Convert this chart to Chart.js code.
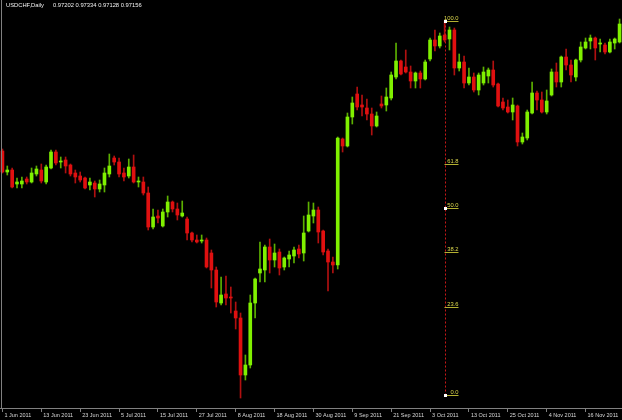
<!DOCTYPE html>
<html>
<head>
<meta charset="utf-8">
<script src="https://cdn.jsdelivr.net/npm/chart.js@4.4.1/dist/chart.umd.min.js"></script>
<style>
  html, body { margin: 0; padding: 0; background: #000; }
  canvas { display: block; }
</style>
</head>
<body>
<canvas id="chart" width="622" height="420"></canvas>
<script>
// USDCHF daily candles, 1 Jun – 25 Nov 2011
const symbolTitle = 'USDCHF,Daily';
const lastQuote = '0.97202 0.97334 0.97128 0.97156';

const tickLabels = ['1 Jun 2011', '13 Jun 2011', '23 Jun 2011', '5 Jul 2011', '15 Jul 2011', '27 Jul 2011',
  '8 Aug 2011', '18 Aug 2011', '30 Aug 2011', '9 Sep 2011', '21 Sep 2011', '3 Oct 2011',
  '13 Oct 2011', '25 Oct 2011', '4 Nov 2011', '16 Nov 2011'];
const TICK_EVERY = 8; // one label every 8 trading days

const opens = [
  0.8534, 0.8408, 0.842, 0.8336, 0.8336, 0.8366, 0.8348, 0.8396, 0.842, 0.8348,
  0.8432, 0.8528, 0.8468, 0.848, 0.845, 0.8402, 0.8384, 0.8372, 0.833, 0.8342,
  0.8306, 0.833, 0.8396, 0.8492, 0.8468, 0.8402, 0.8384, 0.8438, 0.8348, 0.8348,
  0.8282, 0.8078, 0.8144, 0.8084, 0.8168, 0.8228, 0.8186, 0.8144, 0.8126, 0.8042,
  0.8, 0.7994, 0.8, 0.7922, 0.782, 0.7622, 0.7676, 0.7658, 0.7574, 0.7532,
  0.719, 0.725, 0.7622, 0.7802, 0.782, 0.7958, 0.788, 0.7928, 0.7838, 0.7886,
  0.7904, 0.7946, 0.7922, 0.8054, 0.8144, 0.818, 0.8054, 0.7934, 0.7868, 0.785,
  0.8606, 0.8564, 0.8738, 0.8876, 0.881, 0.8792, 0.8756, 0.8684, 0.8816, 0.881,
  0.8852, 0.8978, 0.9074, 0.9038, 0.9008, 0.8954, 0.9002, 0.8966, 0.9086, 0.92,
  0.9164, 0.923, 0.9206, 0.926, 0.9032, 0.9068, 0.8942, 0.8978, 0.89, 0.8942,
  0.8984, 0.902, 0.8936, 0.8828, 0.8798, 0.8768, 0.8804, 0.8588, 0.8612, 0.8762,
  0.8882, 0.884, 0.8768, 0.887, 0.9008, 0.8948, 0.9098, 0.905, 0.8978, 0.908,
  0.9152, 0.9194, 0.9212, 0.9176, 0.917, 0.9128, 0.9182, 0.9188
];
const highs = [
  0.8546, 0.8444, 0.8432, 0.8372, 0.8378, 0.8378, 0.8432, 0.8444, 0.8456, 0.845,
  0.854, 0.854, 0.8498, 0.8498, 0.8456, 0.842, 0.8408, 0.8378, 0.8372, 0.8354,
  0.836, 0.8432, 0.8516, 0.8504, 0.8492, 0.8432, 0.8486, 0.851, 0.8378, 0.8378,
  0.8318, 0.8186, 0.818, 0.8186, 0.8264, 0.8234, 0.8222, 0.8234, 0.8138, 0.8048,
  0.803, 0.803, 0.8012, 0.794, 0.7838, 0.7778, 0.7784, 0.7718, 0.7628, 0.7562,
  0.731, 0.767, 0.7772, 0.7988, 0.797, 0.8006, 0.7976, 0.7946, 0.7898, 0.7934,
  0.7958, 0.797, 0.8144, 0.8228, 0.8222, 0.8198, 0.806, 0.7946, 0.7898, 0.8618,
  0.8612, 0.8762, 0.8858, 0.8918, 0.887, 0.8846, 0.8792, 0.8768, 0.8864, 0.8912,
  0.9008, 0.9182, 0.908, 0.914, 0.9044, 0.9008, 0.9014, 0.908, 0.9212, 0.926,
  0.9242, 0.9314, 0.9278, 0.9272, 0.9116, 0.9104, 0.9032, 0.9002, 0.9002, 0.9038,
  0.9032, 0.9074, 0.8942, 0.8852, 0.884, 0.8852, 0.881, 0.8642, 0.878, 0.8948,
  0.8894, 0.8888, 0.89, 0.9026, 0.9062, 0.9104, 0.9146, 0.908, 0.9086, 0.9188,
  0.9212, 0.923, 0.9218, 0.9206, 0.9182, 0.9206, 0.9212, 0.9326
];
const lows = [
  0.8402, 0.839, 0.8312, 0.8312, 0.8312, 0.8336, 0.8342, 0.8384, 0.8342, 0.8336,
  0.8426, 0.845, 0.8432, 0.8402, 0.8384, 0.8342, 0.8348, 0.8306, 0.83, 0.8258,
  0.8288, 0.8288, 0.8378, 0.845, 0.8378, 0.8354, 0.8372, 0.8342, 0.8318, 0.827,
  0.806, 0.8066, 0.8102, 0.8078, 0.8138, 0.8168, 0.812, 0.8138, 0.8, 0.7988,
  0.7982, 0.7982, 0.7832, 0.7712, 0.7598, 0.761, 0.761, 0.7562, 0.7466, 0.7052,
  0.716, 0.7232, 0.7532, 0.7748, 0.7748, 0.7802, 0.7838, 0.779, 0.782, 0.7838,
  0.7862, 0.7892, 0.7874, 0.8048, 0.8102, 0.7982, 0.791, 0.7694, 0.7802, 0.7826,
  0.8528, 0.8558, 0.8696, 0.878, 0.8744, 0.872, 0.863, 0.8678, 0.8792, 0.8774,
  0.884, 0.8966, 0.899, 0.9002, 0.8912, 0.8912, 0.8912, 0.896, 0.9074, 0.9134,
  0.9152, 0.9188, 0.914, 0.899, 0.9014, 0.8912, 0.893, 0.8888, 0.887, 0.893,
  0.8942, 0.8918, 0.8798, 0.878, 0.8762, 0.872, 0.8564, 0.8576, 0.86, 0.8756,
  0.878, 0.8762, 0.8756, 0.8864, 0.8918, 0.8918, 0.902, 0.8948, 0.8954, 0.9068,
  0.9146, 0.9146, 0.908, 0.9128, 0.9116, 0.9122, 0.9146, 0.9182
];
const closes = [
  0.8408, 0.842, 0.8318, 0.8348, 0.8354, 0.8348, 0.8402, 0.8426, 0.8354, 0.8438,
  0.8528, 0.8462, 0.8474, 0.8444, 0.8396, 0.8378, 0.836, 0.8312, 0.8348, 0.8306,
  0.8336, 0.8402, 0.8444, 0.8468, 0.8396, 0.8378, 0.8438, 0.8348, 0.8354, 0.8282,
  0.8078, 0.8138, 0.8132, 0.8168, 0.8228, 0.8186, 0.815, 0.8162, 0.8042, 0.8,
  0.7988, 0.8, 0.7838, 0.782, 0.7628, 0.767, 0.7652, 0.7652, 0.7532, 0.719,
  0.725, 0.7622, 0.7766, 0.7826, 0.7958, 0.788, 0.7922, 0.7832, 0.7892, 0.791,
  0.794, 0.7916, 0.8042, 0.815, 0.818, 0.8048, 0.7928, 0.7868, 0.785, 0.8612,
  0.8564, 0.8738, 0.8822, 0.8798, 0.8798, 0.8756, 0.8684, 0.8744, 0.8804, 0.8858,
  0.899, 0.9074, 0.8996, 0.9008, 0.8954, 0.9002, 0.8966, 0.9068, 0.92, 0.9164,
  0.9224, 0.92, 0.926, 0.9032, 0.9068, 0.8942, 0.8978, 0.89, 0.899, 0.9008,
  0.902, 0.893, 0.8804, 0.8792, 0.8768, 0.881, 0.8588, 0.8618, 0.8768, 0.8882,
  0.884, 0.8768, 0.8834, 0.9008, 0.8948, 0.9098, 0.905, 0.899, 0.908, 0.9158,
  0.9188, 0.9212, 0.9152, 0.9182, 0.9128, 0.9188, 0.9206, 0.9296
];

// Fibonacci retracement drawn on the 6 Oct bar
const fibLevels = [0, 23.6, 38.2, 50, 61.8, 100];
const fibBar = 91;
const fibLow = 0.707;
const fibHigh = 0.9314;

const UP = '#80f000', DOWN = '#e01010';
const UP_WICK = '#5cb000', DOWN_WICK = '#b01010';

// trading days (weekdays) from 1 Jun 2011
const days = [];
for (let d = new Date(2011, 5, 1); days.length < opens.length; d.setDate(d.getDate() + 1)) {
  if (d.getDay() !== 0 && d.getDay() !== 6) days.push(d.toDateString());
}

const isUp = opens.map((o, i) => closes[i] >= o);
const wicks = lows.map((l, i) => [l, highs[i]]);
const bodies = opens.map((o, i) => [Math.min(o, closes[i]), Math.max(o, closes[i])]);

const FONT = { family: '"Liberation Sans", Arial, sans-serif', size: 5.5 };

// header text + left frame line
const framePlugin = {
  id: 'frame',
  afterDraw(chart) {
    const { ctx, chartArea } = chart;
    ctx.save();
    ctx.strokeStyle = '#808080';
    ctx.lineWidth = 1;
    ctx.beginPath();
    ctx.moveTo(1.5, 0);
    ctx.lineTo(1.5, chartArea.bottom);
    ctx.stroke();
    ctx.fillStyle = '#f0f0f0';
    ctx.font = '5.8px "Liberation Sans", Arial, sans-serif';
    ctx.textBaseline = 'alphabetic';
    ctx.fillText(symbolTitle, 6, 7);
    ctx.fillText(lastQuote, 53, 7);
    ctx.restore();
  }
};

// fibonacci object: dotted vertical line, short level lines with labels
const fibPlugin = {
  id: 'fibo',
  afterDatasetsDraw(chart) {
    const { ctx, scales } = chart;
    const x = Math.round(scales.x.getPixelForValue(fibBar)) + 0.5;
    const yAt = lv => Math.round(scales.y.getPixelForValue(fibLow + (fibHigh - fibLow) * lv / 100)) + 0.5;
    ctx.save();
    ctx.lineWidth = 1;
    ctx.strokeStyle = '#c81818';
    ctx.setLineDash([2, 2]);
    ctx.beginPath();
    ctx.moveTo(x, yAt(100));
    ctx.lineTo(x, yAt(0));
    ctx.stroke();
    ctx.setLineDash([]);
    ctx.font = '5.8px "Liberation Sans", Arial, sans-serif';
    ctx.textAlign = 'right';
    ctx.textBaseline = 'bottom';
    for (const lv of fibLevels) {
      const y = yAt(lv);
      ctx.strokeStyle = '#b4b030';
      ctx.beginPath();
      ctx.moveTo(x - 1, y);
      ctx.lineTo(x + 13, y);
      ctx.stroke();
      ctx.fillStyle = '#dcd84c';
      ctx.fillText(lv.toFixed(1), x + 13, y - 0.5);
    }
    ctx.fillStyle = '#ffffff';
    for (const lv of [0, 50, 100]) ctx.fillRect(x - 1.5, yAt(lv) - 1.5, 3, 3);
    ctx.restore();
  }
};

new Chart(document.getElementById('chart'), {
  type: 'bar',
  data: {
    labels: days,
    datasets: [
      { data: wicks, backgroundColor: isUp.map(u => (u ? UP_WICK : DOWN_WICK)), barThickness: 1, grouped: false, order: 2 },
      { data: bodies, backgroundColor: isUp.map(u => (u ? UP : DOWN)), barThickness: 3, minBarLength: 1, grouped: false, order: 1 },
    ],
  },
  options: {
    responsive: false,
    animation: false,
    layout: { padding: 0 },
    plugins: { legend: { display: false }, tooltip: { enabled: false } },
    scales: {
      x: {
        offset: true,
        grid: {
          offset: false,
          drawOnChartArea: false,
          drawTicks: true,
          tickLength: 4,
          color: ctx => (ctx.index % TICK_EVERY === 0 ? '#808080' : 'rgba(0,0,0,0)'),
        },
        border: { display: true, color: '#808080' },
        ticks: {
          autoSkip: false,
          maxRotation: 0,
          minRotation: 0,
          align: 'start',
          labelOffset: 2,
          padding: 0,
          color: '#d8d8d8',
          font: FONT,
          callback: (v, i) => (i % TICK_EVERY === 0 ? tickLabels[i / TICK_EVERY] : ''),
        },
        afterFit: s => { s.height = 12; },
      },
      y: { display: false, min: 0.6992, max: 0.944 },
    },
  },
  plugins: [framePlugin, fibPlugin],
});
</script>
</body>
</html>
